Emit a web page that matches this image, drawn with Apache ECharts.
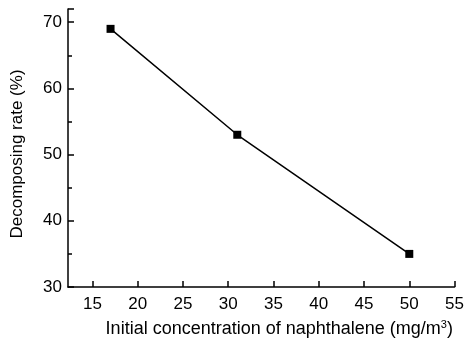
<!DOCTYPE html>
<html>
<head>
<meta charset="utf-8">
<script src="https://cdn.jsdelivr.net/npm/echarts@6/dist/echarts.min.js"></script>
<style>
  html, body { margin: 0; padding: 0; background: #fff; }
  #main { width: 467px; height: 343px; }
</style>
</head>
<body>
<div id="main"></div>
<script>
// naphthalene concentration (mg/m3) vs decomposing rate (%)
var concentration = [17, 31, 50];
var decomposing = [69, 53, 35];
var xTicks = [15, 20, 25, 30, 35, 40, 45, 50, 55];

var font = '"Liberation Sans", Arial, sans-serif';
var myChart = echarts.init(document.getElementById('main'));

var points = concentration.map(function (c, i) { return [c, decomposing[i]]; });

var option = {
    animation: false,
    backgroundColor: '#fff',
    grid: {
        left: 68,
        right: 11,
        top: 9,
        bottom: 54
    },
    xAxis: {
        type: 'value',
        min: 12.3,
        max: 55,
        name: 'Initial concentration of naphthalene (mg/m{sup|3})',
        nameLocation: 'middle',
        nameGap: 32,
        nameTextStyle: {
            color: '#000',
            fontFamily: font,
            fontSize: 18,
            padding: [0, 0, 0, 36],
            rich: {
                sup: { fontSize: 11, verticalAlign: 'top', padding: [0, 0, 9, 0], fontFamily: font, color: '#000' }
            }
        },
        splitLine: { show: false },
        axisLine: { show: true, onZero: false, lineStyle: { color: '#000', width: 1.5 } },
        axisTick: {
            show: true,
            inside: true,
            length: 6,
            customValues: xTicks,
            lineStyle: { color: '#000', width: 1.5 }
        },
        axisLabel: {
            color: '#000',
            fontFamily: font,
            fontSize: 17,
            margin: 9,
            customValues: xTicks
        }
    },
    yAxis: {
        type: 'value',
        min: 30,
        max: 72,
        interval: 10,
        name: 'Decomposing rate (%)',
        nameLocation: 'middle',
        nameGap: 42,
        nameTextStyle: {
            color: '#000',
            fontFamily: font,
            fontSize: 17,
            padding: [0, 12, 0, 0]
        },
        splitLine: { show: false },
        axisLine: { show: true, onZero: false, lineStyle: { color: '#000', width: 1.5 } },
        axisTick: { show: true, inside: true, length: 6, lineStyle: { color: '#000', width: 1.5 } },
        minorTick: { show: true, splitNumber: 2, length: 4, lineStyle: { color: '#000', width: 1.5 } },
        axisLabel: {
            color: '#000',
            fontFamily: font,
            fontSize: 17,
            margin: 6,
            showMaxLabel: false
        }
    },
    series: [
        {
            type: 'line',
            data: points,
            symbol: 'rect',
            symbolSize: 8,
            itemStyle: { color: '#000' },
            lineStyle: { color: '#000', width: 1.5 }
        }
    ]
};
myChart.setOption(option);
</script>
</body>
</html>
